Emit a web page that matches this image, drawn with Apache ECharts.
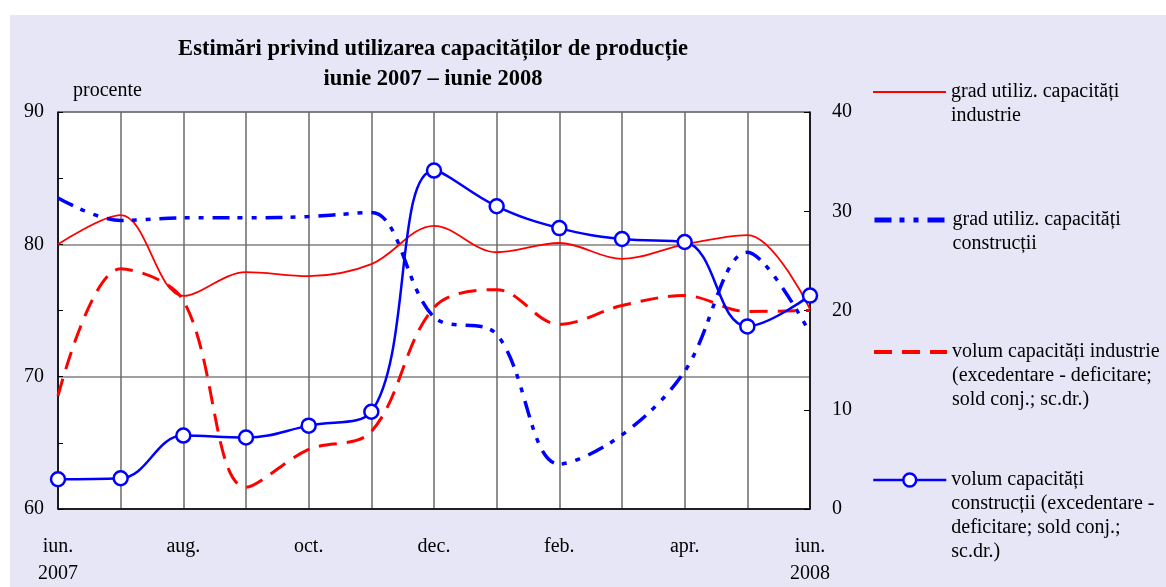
<!DOCTYPE html>
<html>
<head>
<meta charset="utf-8">
<script src="https://cdn.jsdelivr.net/npm/echarts@6/dist/echarts.min.js"></script>
<style>
  html, body { margin: 0; padding: 0; background: #fff; }
  #bg {
    position: absolute; left: 10px; top: 15px; width: 1156px; height: 572px;
    background-color: #e6e6f6;
  }
  #chart { position: absolute; left: 0; top: 0; width: 1166px; height: 587px; }
</style>
</head>
<body>
<div id="bg"></div>
<div id="chart"></div>
<script>
var months = ["iun.\n2007", "iul.", "aug.", "sep.", "oct.", "nov.", "dec.", "ian.", "feb.", "mar.", "apr.", "mai", "iun.\n2008"];
var gradIndustrie = [80.0, 82.2, 76.1, 77.9, 77.6, 78.5, 81.4, 79.4, 80.1, 78.9, 80.0, 80.7, 75.1];
var gradConstructii = [83.5, 81.8, 82.0, 82.0, 82.1, 82.4, 74.5, 73.2, 63.4, 65.6, 70.4, 79.4, 73.3];
var volumIndustrie = [11.4, 24.2, 21.0, 2.2, 6.0, 7.8, 20.3, 22.1, 18.6, 20.5, 21.5, 19.9, 20.0];
var volumConstructii = [3.0, 3.1, 7.4, 7.2, 8.4, 9.8, 34.1, 30.5, 28.3, 27.2, 26.9, 18.4, 21.5];

var names = [
  "grad utiliz. capacități\nindustrie",
  "grad utiliz. capacități\nconstrucții",
  "volum capacități industrie\n(excedentare - deficitare;\nsold conj.; sc.dr.)",
  "volum capacități\nconstrucții (excedentare -\ndeficitare; sold conj.;\nsc.dr.)"
];

var FONT = "Liberation Serif";
var FS = 20;
var LH = 24;

var chart = echarts.init(document.getElementById("chart"));

// one legend per series so each can sit at its own height;
// the empty first rich line pushes the text down so line 1 lines up with the icon
function legendFor(i, centerY, lineW, hideSymbol) {
  var n = names[i].split("\n").length;
  return {
    data: [names[i]],
    left: 872,
    top: centerY - (2 * n - 1) * LH / 2,
    padding: 0,
    itemWidth: 73,
    itemHeight: 16,
    itemGap: 6,
    selectedMode: false,
    formatter: function (name) { return "{s| }\n" + name; },
    lineStyle: { width: lineW },
    itemStyle: hideSymbol ? { opacity: 0 } : { color: "#fff", borderColor: "#0000ff", borderWidth: 2.5 },
    textStyle: {
      fontFamily: FONT,
      fontSize: FS,
      color: "#000",
      lineHeight: LH,
      rich: { s: { fontSize: 2, lineHeight: (n - 1) * LH } }
    }
  };
}

var option = {
  animation: false,
  backgroundColor: "transparent",
  title: {
    text: "Estimări privind utilizarea capacităților de producție\niunie 2007 – iunie 2008",
    left: 428,
    top: 29,
    textAlign: "center",
    textStyle: {
      fontFamily: FONT,
      fontSize: 22.5,
      fontWeight: "bold",
      color: "#000",
      lineHeight: 30
    }
  },
  graphic: [{
    type: "text",
    x: 73,
    y: 81,
    style: { text: "procente", font: FS + "px " + FONT, fill: "#000" }
  }],
  legend: [
    legendFor(0, 92, 2, true),
    legendFor(1, 220, 5, true),
    legendFor(2, 352, 4, true),
    legendFor(3, 480, 2.5, false)
  ],
  grid: {
    left: 58, right: 356, top: 112, bottom: 77,
    show: true, backgroundColor: "#fff", borderColor: "#000", borderWidth: 1
  },
  xAxis: {
    type: "category",
    data: months,
    boundaryGap: false,
    axisLine: { lineStyle: { color: "#000", width: 1.5 } },
    axisTick: { show: false },
    axisLabel: {
      interval: 1, margin: 24, color: "#000",
      fontFamily: FONT, fontSize: FS, lineHeight: 27
    },
    splitLine: { show: true, interval: 0, lineStyle: { color: "#6a6a6a", width: 1.5 } }
  },
  yAxis: [{
    type: "value",
    min: 60, max: 90, interval: 10,
    axisLine: { show: true, lineStyle: { color: "#000", width: 1.5 } },
    axisTick: { show: true, inside: true, length: 5, lineStyle: { color: "#000" } },
    minorTick: { show: true, splitNumber: 2, length: 5, lineStyle: { color: "#000" } },
    axisLabel: { margin: 14, color: "#000", fontFamily: FONT, fontSize: FS },
    splitLine: { show: true, lineStyle: { color: "#808080", width: 1.5 } }
  }, {
    type: "value",
    min: 0, max: 40, interval: 10,
    position: "right",
    axisLine: { show: true, lineStyle: { color: "#000", width: 1.5 } },
    axisTick: { show: true, inside: true, length: 6, lineStyle: { color: "#000" } },
    axisLabel: { margin: 22, color: "#000", fontFamily: FONT, fontSize: FS },
    splitLine: { show: false }
  }],
  series: [{
    name: names[0],
    type: "line",
    yAxisIndex: 0,
    data: gradIndustrie,
    smooth: 0.35,
    symbol: "none",
    color: "#ff0000",
    lineStyle: { color: "#ff0000", width: 1.8 }
  }, {
    name: names[1],
    type: "line",
    yAxisIndex: 0,
    data: gradConstructii,
    smooth: 0.35,
    symbol: "none",
    color: "#0000ff",
    lineStyle: { color: "#0000ff", width: 3.5, type: [17, 8, 5, 9, 5, 9] }
  }, {
    name: names[2],
    type: "line",
    yAxisIndex: 1,
    data: volumIndustrie,
    smooth: 0.35,
    symbol: "none",
    color: "#ff0000",
    lineStyle: { color: "#ff0000", width: 3, type: [18, 10] }
  }, {
    name: names[3],
    type: "line",
    yAxisIndex: 1,
    data: volumConstructii,
    smooth: 0.4,
    symbol: "circle",
    symbolSize: 14,
    color: "#0000ff",
    itemStyle: { color: "#fff", borderColor: "#0000ff", borderWidth: 2.5 },
    lineStyle: { color: "#0000ff", width: 2.5 },
    z: 5
  }]
};

chart.setOption(option);
</script>
</body>
</html>
